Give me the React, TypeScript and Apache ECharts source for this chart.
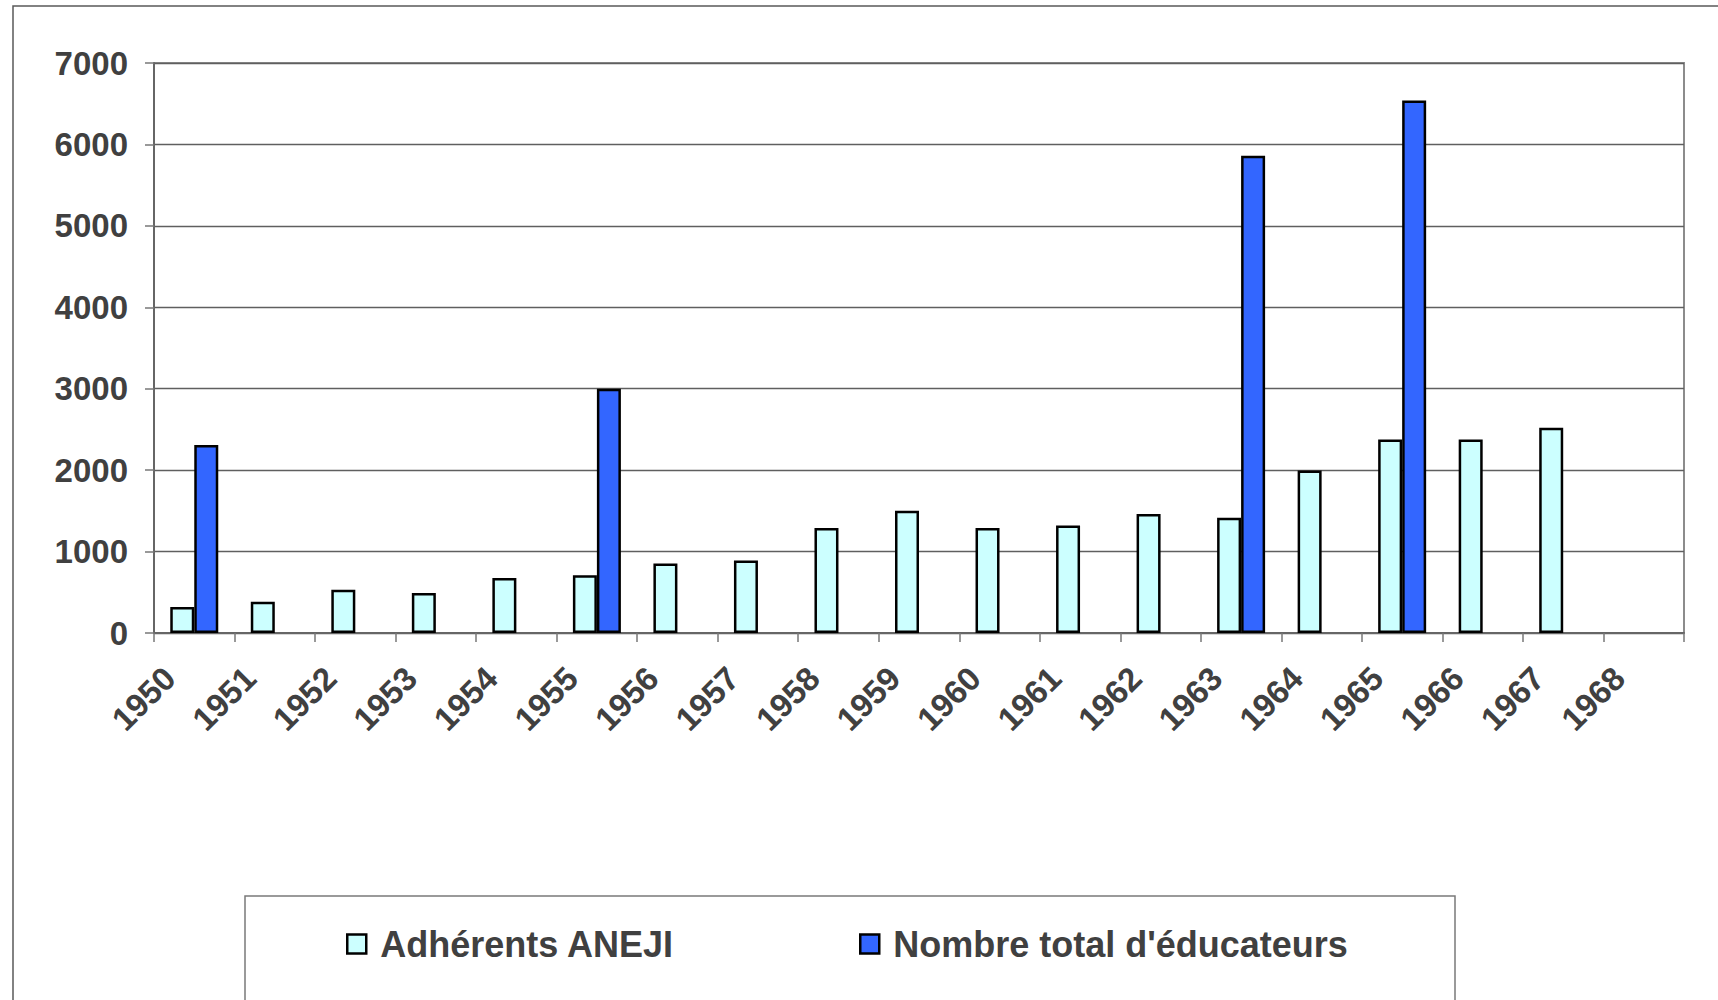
import React, { useEffect, useRef } from "react";
import * as echarts from "echarts";

const years = [
  "1950", "1951", "1952", "1953", "1954", "1955", "1956", "1957", "1958", "1959",
  "1960", "1961", "1962", "1963", "1964", "1965", "1966", "1967", "1968",
];
const adherents = [
  320, 385, 530, 490, 675, 710, 855, 890, 1290, 1500,
  1290, 1320, 1460, 1415, 1995, 2375, 2375, 2520, null,
];
const educateurs = [
  2310, null, null, null, null, 3000, null, null, null, null,
  null, null, null, 5860, null, 6540, null, null, null,
];
const yTicks = { min: 0, max: 7000, interval: 1000 };
const seriesNames = ["Adhérents ANEJI", "Nombre total d'éducateurs"];
const colors = ["#CCFFFF", "#3366FF"];

const FONT = "'Liberation Sans', Arial, Helvetica, sans-serif";
const TEXT = "#404040";

export default function App() {
  const ref = useRef<HTMLDivElement>(null);
  useEffect(() => {
    if (!ref.current) return;
    const chart = echarts.init(ref.current, undefined, { renderer: "svg" });
    const legendText = {
      fontFamily: FONT,
      fontSize: 36,
      fontWeight: "bold",
      color: TEXT,
      lineHeight: 40,
      padding: [0, 0, 0, 9],
    };
    chart.setOption({
      animation: false,
      backgroundColor: "#ffffff",
      graphic: [
        {
          type: "rect",
          shape: { x: 13, y: 6, width: 1800, height: 1200 },
          style: { fill: "none", stroke: "#5a5a5a", lineWidth: 1.5 },
          silent: true,
        },
        {
          type: "rect",
          shape: { x: 245, y: 896, width: 1210, height: 300 },
          style: { fill: "none", stroke: "#7a7a7a", lineWidth: 1.5 },
          silent: true,
        },
      ],
      grid: {
        left: 154,
        top: 63,
        right: 34,
        bottom: 367,
        containLabel: false,
        show: true,
        borderColor: "#8c8c8c",
        borderWidth: 2,
        backgroundColor: "transparent",
      },
      legend: [
        {
          data: [seriesNames[0]],
          left: 341,
          top: 919,
          orient: "horizontal",
          icon: "rect",
          itemWidth: 19,
          itemHeight: 19,
          itemStyle: { borderColor: "#000", borderWidth: 2.5 },
          textStyle: legendText,
        },
        {
          data: [seriesNames[1]],
          left: 854,
          top: 919,
          orient: "horizontal",
          icon: "rect",
          itemWidth: 19,
          itemHeight: 19,
          itemStyle: { borderColor: "#000", borderWidth: 2.5 },
          textStyle: legendText,
        },
      ],
      xAxis: {
        type: "category",
        data: years,
        boundaryGap: true,
        axisLine: { show: true, lineStyle: { color: "#666666", width: 2 } },
        axisTick: {
          show: true,
          alignWithLabel: false,
          length: 9,
          lineStyle: { color: "#777777", width: 1.5 },
        },
        axisLabel: {
          interval: 0,
          rotate: 45,
          margin: 15,
          padding: [0, 35, 0, 0],
          fontFamily: FONT,
          fontSize: 33,
          fontWeight: "bold",
          color: TEXT,
        },
        splitLine: { show: false },
      },
      yAxis: {
        type: "value",
        min: yTicks.min,
        max: yTicks.max,
        interval: yTicks.interval,
        axisLine: { show: true, lineStyle: { color: "#666666", width: 2 } },
        axisTick: { show: true, length: 9, lineStyle: { color: "#777777", width: 1.5 } },
        axisLabel: {
          margin: 26,
          fontFamily: FONT,
          fontSize: 33,
          fontWeight: "bold",
          color: TEXT,
          formatter: (v: number) => String(v),
        },
        splitLine: { show: true, lineStyle: { color: "#5f5f5f", width: 1.3 } },
      },
      series: [
        {
          name: seriesNames[0],
          type: "bar",
          data: adherents,
          barWidth: 24,
          barGap: "0%",
          itemStyle: { color: colors[0], borderColor: "#000000", borderWidth: 2.5 },
        },
        {
          name: seriesNames[1],
          type: "bar",
          data: educateurs,
          barWidth: 24,
          barGap: "0%",
          itemStyle: { color: colors[1], borderColor: "#000000", borderWidth: 2.5 },
        },
      ],
    });
    return () => chart.dispose();
  }, []);
  return (
    <div
      ref={ref}
      style={{
        position: "absolute",
        left: 0,
        top: 0,
        width: 1718,
        height: 1000,
        background: "#ffffff",
      }}
    />
  );
}
